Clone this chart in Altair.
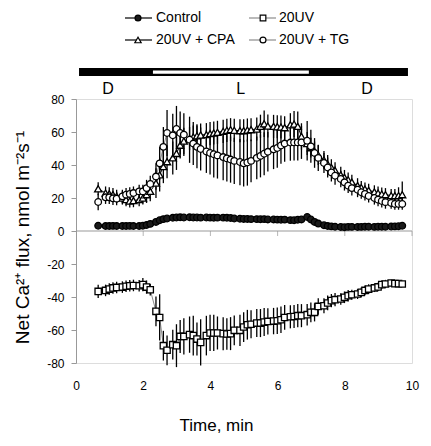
import altair as alt
import pandas as pd

# ---------------- data ----------------
times = [0.66, 0.88, 0.99, 1.10, 1.21, 1.38, 1.49, 1.60, 1.71, 1.88, 1.99, 2.10, 2.21,
         2.38, 2.49, 2.60, 2.71, 2.88, 2.99, 3.10, 3.21, 3.38, 3.49, 3.60, 3.71,
         3.88, 3.99, 4.10, 4.21, 4.38, 4.49, 4.60, 4.71, 4.88, 4.99, 5.10, 5.21,
         5.38, 5.49, 5.60, 5.71, 5.88, 5.99, 6.10, 6.21, 6.38, 6.49, 6.60, 6.71,
         6.88, 6.99, 7.10, 7.21, 7.38, 7.49, 7.60, 7.71, 7.88, 7.99, 8.10, 8.21,
         8.38, 8.49, 8.60, 8.71, 8.88, 8.99, 9.10, 9.21, 9.38, 9.49, 9.60, 9.71]

control = [3.2, 3.0, 3.0, 3.1, 3.0, 3.0, 3.0, 3.1, 3.0, 3.0, 3.2, 3.6, 4.3,
           5.5, 6.5, 7.2, 7.6, 8.0, 8.2, 8.3, 8.2, 8.3, 8.2, 8.2, 8.1,
           8.2, 8.1, 8.0, 8.1, 8.1, 8.0, 7.9, 7.6, 7.4, 7.3, 7.3, 7.2,
           7.2, 7.1, 7.2, 7.0, 7.0, 6.9, 6.8, 6.9, 6.6, 6.5, 6.8, 7.0,
           8.5, 7.0, 5.5, 4.5, 3.5, 3.0, 2.8, 2.6, 2.4, 2.3, 2.5, 2.5,
           2.4, 2.5, 2.6, 2.6, 2.5, 2.6, 2.6, 2.6, 2.7, 2.8, 2.9, 3.2]

uv = [-36.6, -36.0, -35.2, -34.5, -34.2, -34.0, -33.5, -33.2, -33.0, -33.2, -32.5, -34.0, -35.6,
      -48.7, -52.4, -69.5, -72.3, -68.9, -69.5, -63.9, -63.9, -62.8, -63.4, -65.5, -67.5,
      -63.4, -61.8, -61.8, -61.8, -62.2, -62.4, -62.2, -60.2, -60.2, -58.2, -56.8, -56.5,
      -55.8, -55.8, -55.2, -54.8, -54.6, -54.4, -53.8, -52.4, -52.0, -51.8, -51.3, -51.3,
      -50.7, -49.3, -49.3, -45.7, -45.3, -43.6, -42.2, -41.6, -41.2, -40.2, -39.2, -38.6,
      -38.2, -37.2, -36.0, -35.2, -34.5, -33.9, -32.5, -32.1, -31.5, -31.9, -31.9, -32.1]
uv_err = [4, 3.5, 3.5, 3.5, 3.5, 3.5, 3.5, 3.5, 3.5, 3.5, 4, 4, 3.5,
          9, 14, 9, 9, 9, 13, 10, 11, 11, 12, 10, 14,
          12, 11, 11, 10, 10, 9.5, 10, 9, 9.5, 9, 9, 8.5,
          8.5, 8.5, 8.5, 8, 8, 8, 8, 7.5, 7, 7, 7, 7,
          6.5, 6, 5.5, 5, 4.5, 4.5, 4, 4, 3.5, 3.5, 3.5, 3,
          3, 3, 3, 3, 2.5, 2.5, 2.5, 2.5, 2, 2, 1.5, 1.5]

cpa = [25.6, 23.0, 22.5, 22.0, 21.0, 20.0, 19.0, 18.2, 18.4, 19.0, 20.0, 22.0, 24.0,
       29.0, 34.0, 39.0, 42.0, 44.3, 47.0, 52.0, 54.5, 56.0, 57.0, 57.7, 58.2,
       58.4, 59.0, 59.4, 59.8, 60.4, 61.0, 61.4, 61.0, 60.8, 60.8, 61.2, 61.4,
       61.8, 63.5, 65.0, 63.6, 63.4, 63.2, 63.0, 62.6, 64.4, 64.8, 63.4, 57.3,
       53.0, 50.5, 48.2, 46.0, 43.0, 40.5, 38.5, 36.7, 34.0, 32.5, 31.0, 29.6,
       27.5, 26.3, 25.4, 24.6, 23.7, 23.0, 22.4, 22.0, 21.5, 21.4, 21.5, 22.0]
cpa_err = [4, 4, 4, 4, 4, 4, 4, 4, 4, 4, 4, 5, 6,
           9, 10, 10, 10, 10, 10, 8, 8, 7, 7, 7, 7,
           7, 7, 7, 7, 7, 7, 7, 7, 7, 7, 7, 7,
           7, 7, 8, 7, 7, 7, 7, 7, 7, 8, 9, 8,
           7, 6, 6, 6, 5.5, 5.5, 5, 5, 5, 4.5, 4.5, 4.5,
           4.5, 4, 4, 4, 4, 4, 4, 4, 4, 4, 5, 8]

tg = [17.6, 20.4, 20.4, 19.8, 19.6, 21.0, 22.0, 22.5, 23.0, 24.0, 24.0, 26.0, 28.5,
      33.0, 41.0, 51.0, 59.4, 58.0, 61.8, 59.4, 58.4, 55.3, 53.0, 51.0, 49.7,
      48.2, 47.3, 46.5, 45.8, 44.8, 44.0, 43.3, 42.5, 41.8, 41.0, 41.5, 42.5,
      44.3, 45.5, 46.8, 48.0, 49.5, 50.3, 51.8, 53.0, 53.6, 53.7, 53.7, 53.7,
      54.7, 51.3, 47.3, 44.3, 41.2, 38.5, 35.5, 33.5, 31.5, 29.5, 27.5, 26.0,
      25.0, 23.5, 22.5, 21.2, 20.0, 19.0, 18.2, 17.5, 17.0, 16.4, 16.4, 16.4]
tg_err = [5, 4, 4, 4, 4, 4, 4, 4, 4, 4, 4, 5, 5,
          8, 10, 12, 14, 13, 14, 13, 13, 14, 13, 13, 13,
          13, 13, 14, 14, 14, 14, 14, 14, 14, 14, 14, 13,
          13, 13, 13, 12, 12, 12, 11, 11, 11, 11, 11, 10,
          12, 10, 9, 8, 6, 6, 5.5, 5.5, 5, 5, 4.5, 4.5,
          4.5, 4, 4, 4, 4, 4, 4, 4, 3.5, 3.5, 3.5, 3.5]

series_names = ["Control", "20UV", "20UV + CPA", "20UV + TG"]
x_ticks = [0, 2, 4, 6, 8, 10]
y_ticks = [-80, -60, -40, -20, 0, 20, 40, 60, 80]
bar_span = [0.09, 9.88]          # D/L bar (min)
light_period = [2.29, 6.93]      # light (L) period (min)
period_labels = ["D", "L", "D"]
period_label_pos = [0.95, 4.9, 8.66]

# ---------------- styles ----------------
FONT = "Liberation Sans"
styles = {
    "Control":    dict(shape="circle",       fill="#1a1a1a", line="black",   size=44),
    "20UV":       dict(shape="square",       fill="white",   line="#8c8c8c", size=40),
    "20UV + CPA": dict(shape="triangle-up",  fill="white",   line="black",   size=50),
    "20UV + TG":  dict(shape="circle",       fill="white",   line="#8c8c8c", size=44),
}
values = {"Control": (control, None), "20UV": (uv, uv_err),
          "20UV + CPA": (cpa, cpa_err), "20UV + TG": (tg, tg_err)}

W, H = 336, 264
xscale = alt.Scale(domain=[0, 10], nice=False, zero=False)
yscale = alt.Scale(domain=[-80, 80], nice=False, zero=False)
xaxis = alt.Axis(values=x_ticks, domain=False, ticks=False, tickSize=0, grid=False,
                 labelFlush=False, labelOverlap=False,
                 labelPadding=17, labelFontSize=12, labelColor="black", labelFont=FONT,
                 title="Time, min", titleFontSize=17, titleFontWeight="normal",
                 titleFont=FONT, titleColor="black", titleX=140, titleY=67,
                 titleBaseline="alphabetic", titleAlign="center")
yaxis = alt.Axis(values=y_ticks, domain=True, domainColor="#999999", ticks=True,
                 tickColor="#999999", tickSize=5, grid=False, labelPadding=7,
                 labelFlush=False, labelOverlap=False,
                 labelFontSize=12, labelColor="black", labelFont=FONT,
                 labelExpr="datum.value",
                 title="Net Ca²⁺ flux, nmol m⁻²s⁻¹", titleFontSize=19,
                 titleFontWeight="normal", titleFont=FONT, titleColor="black",
                 titleX=-48, titleY=138, titleAngle=-90,
                 titleBaseline="alphabetic", titleAlign="center")


def X(field):
    return alt.X(f"{field}:Q", scale=xscale, axis=xaxis)


def Y(field):
    return alt.Y(f"{field}:Q", scale=yscale, axis=yaxis)


layers = []

# zero line with tick marks (Excel style category axis)
zero_df = pd.DataFrame({"y": [0]})
layers.append(alt.Chart(zero_df).mark_rule(color="#999999", strokeWidth=1).encode(y=Y("y")))
ticks_df = pd.DataFrame({"t": x_ticks[1:], "y": [0] * (len(x_ticks) - 1)})
layers.append(alt.Chart(ticks_df).mark_tick(orient="vertical", size=5, thickness=1,
                                            color="#999999", yOffset=2.5)
              .encode(x=X("t"), y=Y("y")))

frames = {}
for name in series_names:
    v, e = values[name]
    df = pd.DataFrame({"time": times, "value": v})
    if e is not None:
        df["lo"] = [a - b for a, b in zip(v, e)]
        df["hi"] = [a + b for a, b in zip(v, e)]
    frames[name] = df

# connecting lines
for name in series_names:
    st = styles[name]
    layers.append(alt.Chart(frames[name]).mark_line(color=st["line"], strokeWidth=1)
                  .encode(x=X("time"), y=Y("value")))
# error bars
for name in series_names:
    if values[name][1] is None:
        continue
    layers.append(alt.Chart(frames[name]).mark_rule(color="black", strokeWidth=1.3)
                  .encode(x=X("time"), y=Y("lo"), y2="hi:Q"))
# markers
for name in series_names:
    st = styles[name]
    layers.append(alt.Chart(frames[name]).mark_point(shape=st["shape"], filled=True,
                                                     fill=st["fill"], stroke="black",
                                                     strokeWidth=1.3, size=st["size"], opacity=1)
                  .encode(x=X("time"), y=Y("value")))

# D / L / D bar above the plot
bar_df = pd.DataFrame({"s": [bar_span[0]], "e": [bar_span[1]]})
layers.append(alt.Chart(bar_df).mark_rect(color="black")
              .encode(x=X("s"), x2="e:Q", y=alt.value(-31), y2=alt.value(-23)))
light_df = pd.DataFrame({"s": [light_period[0]], "e": [light_period[1]]})
layers.append(alt.Chart(light_df).mark_rect(color="white")
              .encode(x=X("s"), x2="e:Q", y=alt.value(-28.5), y2=alt.value(-25.3)))
lab_df = pd.DataFrame({"t": period_label_pos, "lab": period_labels})
layers.append(alt.Chart(lab_df).mark_text(font=FONT, fontSize=16, baseline="alphabetic",
                                          align="center", color="black")
              .encode(x=X("t"), y=alt.value(-5), text="lab:N"))

# custom legend (2 columns x 2 rows)
legend_cols = [(49, 76, 62, 80), (173, 200, 187, 203)]
legend_rows = [-81, -59]
for i, name in enumerate(series_names):
    st = styles[name]
    x0, x1, xm, xt = legend_cols[i % 2]
    yy = legend_rows[i // 2]
    one = pd.DataFrame({"lab": [name]})
    layers.append(alt.Chart(one).mark_rule(color=st["line"], strokeWidth=1.2)
                  .encode(x=alt.value(x0), x2=alt.value(x1), y=alt.value(yy)))
    layers.append(alt.Chart(one).mark_point(shape=st["shape"], filled=True, fill=st["fill"],
                                            stroke="black", strokeWidth=1.2,
                                            size=st["size"] * 0.8, opacity=1)
                  .encode(x=alt.value(xm), y=alt.value(yy)))
    layers.append(alt.Chart(one).mark_text(font=FONT, fontSize=14, align="left",
                                           baseline="middle", color="black")
                  .encode(x=alt.value(xt), y=alt.value(yy), text="lab:N"))

chart = alt.layer(*layers).properties(
    width=W, height=H,
    autosize=alt.AutoSizeParams(type="none"),
    padding={"left": 68, "top": 91, "right": 10, "bottom": 70},
    background="white",
).configure_view(stroke=None).configure(font=FONT)

chart.save("out.html", embed_options={"renderer": "svg", "actions": False})
